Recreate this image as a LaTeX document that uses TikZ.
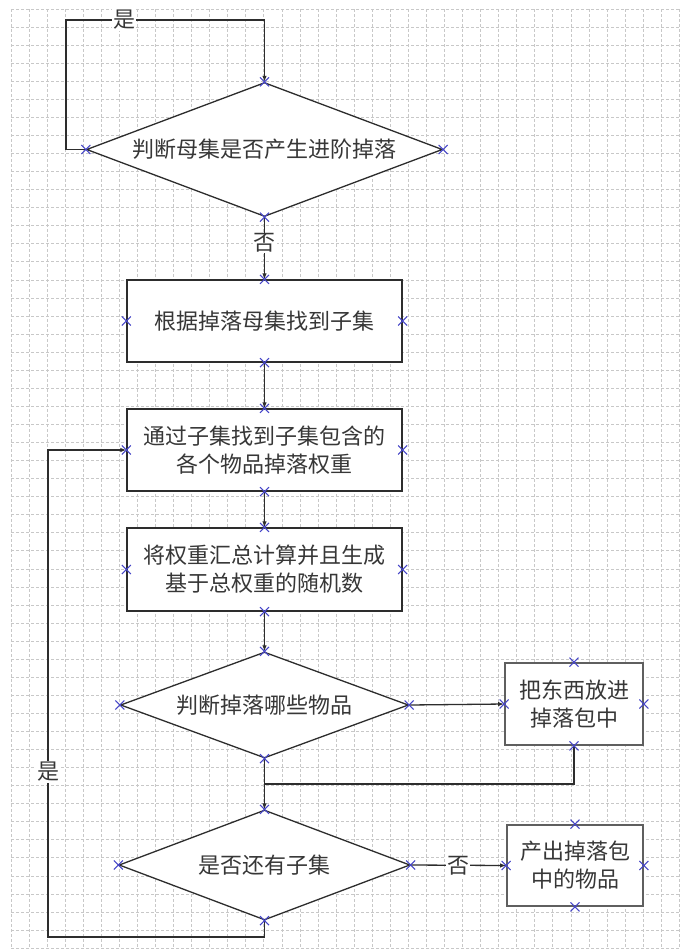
\documentclass[tikz,border=0pt]{standalone}
\usepackage{fontspec}
\setmainfont{Noto Sans CJK SC}
\usetikzlibrary{shapes.geometric,shapes.misc,arrows.meta,calc}
\definecolor{markblue}{RGB}{70,70,200}
\definecolor{gridgray}{RGB}{200,200,200}
\definecolor{linegray}{RGB}{45,45,45}
\definecolor{boxgray}{RGB}{95,95,95}
\definecolor{txtgray}{RGB}{55,55,55}
\tikzset{
  gridline/.style={draw=gridgray, line width=0.7pt, dash pattern=on 3pt off 2pt},
  boxnode/.style={draw=linegray, line width=1.3pt, fill=white, rectangle, inner sep=0pt,
    minimum width=275pt, minimum height=82pt, align=center, text=txtgray,
    font=\fontsize{22}{28}\selectfont},
  sidebox/.style={boxnode, draw=boxgray, line width=1.8pt, minimum width=138pt, minimum height=82pt},
  dianode/.style={draw=linegray, line width=1.3pt, fill=white, diamond, inner sep=0pt,
    align=center, text=txtgray, font=\fontsize{22}{28}\selectfont},
  conn/.style={draw=linegray, line width=1.3pt},
  arr/.style={conn, -{Latex[length=6pt,width=4.5pt]}},
  lbl/.style={fill=white, inner sep=1pt, text=txtgray, font=\fontsize{22}{28}\selectfont},
  xm/.style={cross out, draw=markblue, line width=1pt, minimum size=8pt, inner sep=0pt}
}
\begin{document}
\begin{tikzpicture}[x=1pt,y=-1pt]
\useasboundingbox (0,0) rectangle (683,951);
\fill[white] (0,0) rectangle (683,951);
% grid
\foreach \i in {0,...,37} \draw[gridline] ({11+18.06*\i},9) -- ({11+18.06*\i},948);
\foreach \j in {0,...,52} \draw[gridline] (11,{9+18.06*\j}) -- (679,{9+18.06*\j});

% nodes
\node[dianode, minimum width=356pt, minimum height=134pt, aspect=2.66] (d1) at (264.5,149.5) {判断母集是否产生进阶掉落};
\node[boxnode] (b1) at (264.5,321) {根据掉落母集找到子集};
\node[boxnode] (b2) at (264.5,450) {通过子集找到子集包含的\\各个物品掉落权重};
\node[boxnode, minimum height=83pt] (b3) at (264.5,569.5) {将权重汇总计算并且生成\\基于总权重的随机数};
\node[dianode, minimum width=288pt, minimum height=106pt, aspect=2.72] (d2) at (264.5,705) {判断掉落哪些物品};
\node[sidebox] (b4) at (574,704) {把东西放进\\掉落包中};
\node[dianode, minimum width=291pt, minimum height=110pt, aspect=2.65] (d3) at (264.5,865) {是否还有子集};
\node[sidebox, minimum width=136pt, minimum height=81pt] (b5) at (575,865.5) {产出掉落包\\中的物品};

% helper coordinates
\coordinate (tl) at (66,20);
\coordinate (j1) at (264.5,784);
\coordinate (bl) at (48,937);

% connectors
\draw[arr] (d1.west) -| (tl) -| (d1.north);
\draw[arr] (d1.south) -- (b1.north);
\draw[arr] (b1.south) -- (b2.north);
\draw[arr] (b2.south) -- (b3.north);
\draw[arr] (b3.south) -- (d2.north);
\draw[arr] (d2.east) -- (b4.west);
\draw[conn] (b4.south) |- (j1);
\draw[arr] (d2.south) -- (d3.north);
\draw[arr] (d3.east) -- (b5.west);
\draw[arr] (d3.south) |- (bl) |- (b2.west);

% labels
\node[lbl] (l1) at (124,20) {是};
\node[lbl] (l2) at (264.5,243) {否};
\node[lbl] (l3) at (458,866) {否};
\node[lbl] (l4) at (48,772) {是};

% markers
\foreach \n in {d1,b1,b2,b3,d2,b4,d3,b5}
  \foreach \a in {north,south,east,west}
    \node[xm] at (\n.\a) {};
\end{tikzpicture}
\end{document}
